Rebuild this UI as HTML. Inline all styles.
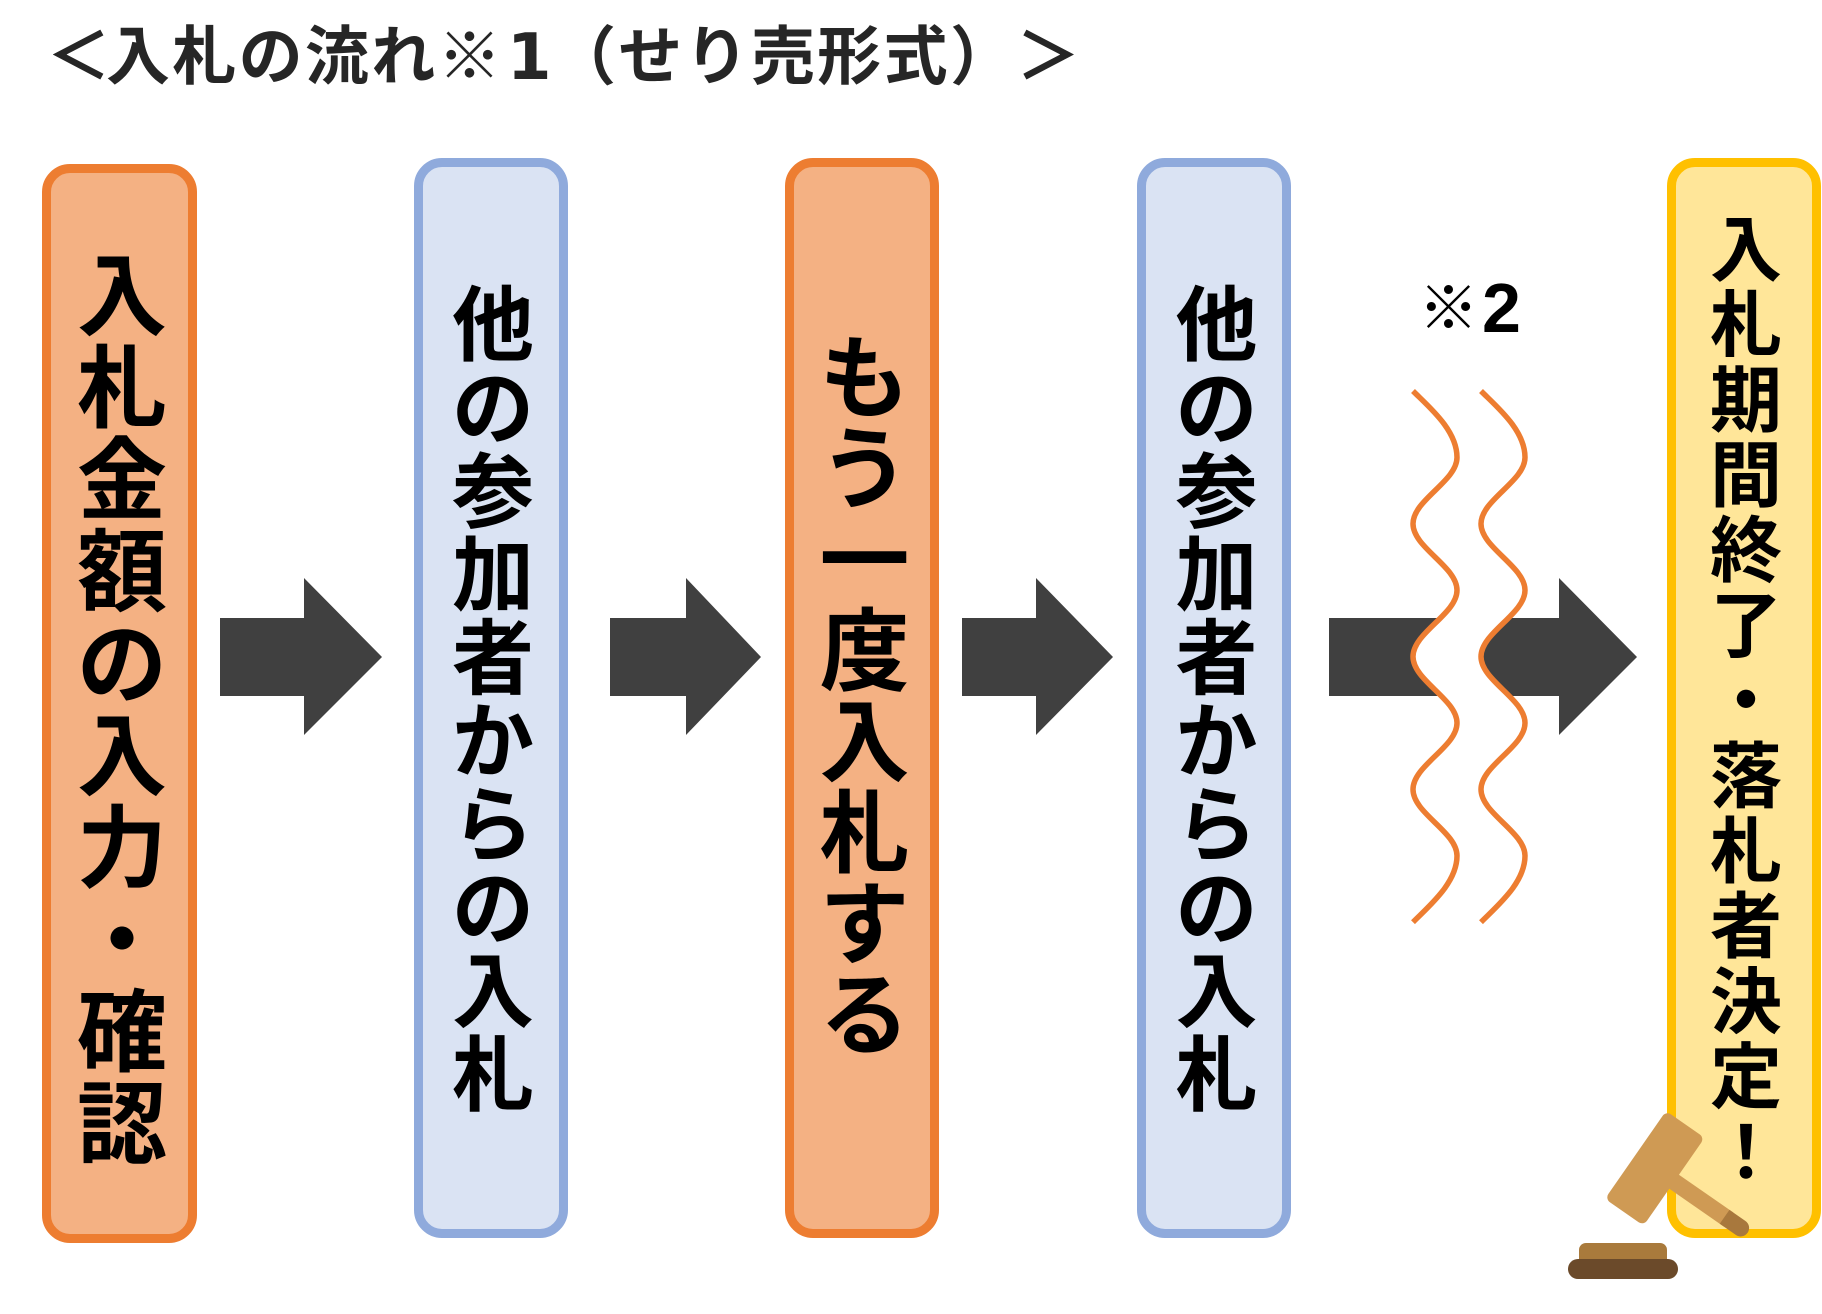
<!DOCTYPE html>
<html>
<head>
<meta charset="utf-8">
<style>
html,body{margin:0;padding:0;background:#fff;}
body{width:1822px;height:1314px;overflow:hidden;}
svg{display:block;}
.t{font-family:"Liberation Sans","Noto Sans CJK JP",sans-serif;font-weight:700;}
</style>
</head>
<body>
<svg width="1822" height="1314" viewBox="0 0 1822 1314" xmlns="http://www.w3.org/2000/svg">
<rect x="0" y="0" width="1822" height="1314" fill="#fff"/>

<!-- Title -->
<text class="t" y="79" font-size="64" fill="#262626"><tspan x="46.5">＜</tspan><tspan x="106">入</tspan><tspan x="172.3">札</tspan><tspan x="238.6">の</tspan><tspan x="304.9">流</tspan><tspan x="371.2">れ</tspan><tspan x="437.5">※</tspan><tspan x="507" font-family="'DejaVu Sans',sans-serif">1</tspan><tspan x="552.1">（</tspan><tspan x="618.4">せ</tspan><tspan x="684.7">り</tspan><tspan x="751">売</tspan><tspan x="817.3">形</tspan><tspan x="883.6">式</tspan><tspan x="950">）</tspan><tspan x="1016.2">＞</tspan></text>

<!-- Boxes -->
<rect x="46.5" y="168.5" width="146" height="1070" rx="23.5" fill="#F4B183" stroke="#ED7D31" stroke-width="9"/>
<rect x="418.5" y="162.5" width="145" height="1071" rx="23.5" fill="#DAE3F3" stroke="#8FAADC" stroke-width="9"/>
<rect x="789.5" y="162.5" width="145" height="1071" rx="23.5" fill="#F4B183" stroke="#ED7D31" stroke-width="9"/>
<rect x="1141.5" y="162.5" width="145" height="1071" rx="23.5" fill="#DAE3F3" stroke="#8FAADC" stroke-width="9"/>
<rect x="1671.5" y="162.5" width="145" height="1071" rx="23.5" fill="#FFE699" stroke="#FFC000" stroke-width="9"/>

<!-- Arrows -->
<g fill="#404040">
<polygon points="220,618 304,618 304,578 382,657 304,735 304,696 220,696"/>
<polygon points="610,618 686,618 686,578 761,657 686,735 686,696 610,696"/>
<polygon points="962,618 1036,618 1036,578 1113,657 1036,735 1036,696 962,696"/>
<polygon points="1329,618 1559,618 1559,578 1637,657 1559,735 1559,696 1329,696"/>
</g>

<!-- White band between waves -->
<path fill="#fff" d="M1413,391 C1429,407 1457,430 1457,457.4 C1457,481.3 1413,499.9 1413,523.8 C1413,547.7 1457,566.3 1457,590.2 C1457,614.1 1413,632.7 1413,656.6 C1413,680.5 1457,699.1 1457,723 C1457,746.9 1413,765.5 1413,789.4 C1413,813.3 1457,831.9 1457,855.8 C1457,883 1429,906 1413,922.2 L1481,922.2 C1497,906 1525,883 1525,855.8 C1525,831.9 1481,813.3 1481,789.4 C1481,765.5 1525,746.9 1525,723 C1525,699.1 1481,680.5 1481,656.6 C1481,632.7 1525,614.1 1525,590.2 C1525,566.3 1481,547.7 1481,523.8 C1481,499.9 1525,481.3 1525,457.4 C1525,430 1497,407 1481,391 Z"/>

<!-- Waves -->
<g fill="none" stroke="#ED7D31" stroke-width="5.5">
<path d="M1413,391 C1429,407 1457,430 1457,457.4 C1457,481.3 1413,499.9 1413,523.8 C1413,547.7 1457,566.3 1457,590.2 C1457,614.1 1413,632.7 1413,656.6 C1413,680.5 1457,699.1 1457,723 C1457,746.9 1413,765.5 1413,789.4 C1413,813.3 1457,831.9 1457,855.8 C1457,883 1429,906 1413,922.2"/>
<path d="M1481,391 C1497,407 1525,430 1525,457.4 C1525,481.3 1481,499.9 1481,523.8 C1481,547.7 1525,566.3 1525,590.2 C1525,614.1 1481,632.7 1481,656.6 C1481,680.5 1525,699.1 1525,723 C1525,746.9 1481,765.5 1481,789.4 C1481,813.3 1525,831.9 1525,855.8 C1525,883 1497,906 1481,922.2"/>
</g>

<!-- ※2 -->
<text x="1448.5" y="329.3" text-anchor="middle" font-size="60" font-weight="400" font-family="'Liberation Sans','Noto Sans CJK JP',sans-serif" fill="#000">※</text>
<text x="1482" y="332" font-size="70" font-weight="700" font-family="'Liberation Sans',sans-serif" fill="#000">2</text>

<!-- Box 1 text -->
<g class="t" font-size="90" fill="#000" text-anchor="middle">
<text x="122" y="328">入</text>
<text x="122" y="420">札</text>
<text x="122" y="512">金</text>
<text x="122" y="604">額</text>
<text x="122" y="696">の</text>
<text x="122" y="788">入</text>
<text x="122" y="880">力</text>
<text x="122" y="972">・</text>
<text x="122" y="1064">確</text>
<text x="122" y="1156">認</text>
</g>

<!-- Box 2 text -->
<g class="t" font-size="82" fill="#000" text-anchor="middle">
<text x="493" y="354.2">他</text>
<text x="493" y="437.5">の</text>
<text x="493" y="520.8">参</text>
<text x="493" y="604.1">加</text>
<text x="493" y="687.4">者</text>
<text x="493" y="770.7">か</text>
<text x="493" y="854">ら</text>
<text x="493" y="937.3">の</text>
<text x="493" y="1020.6">入</text>
<text x="493" y="1103.9">札</text>
</g>

<!-- Box 3 text -->
<g class="t" font-size="90" fill="#000" text-anchor="middle">
<text x="864.5" y="410">も</text>
<text x="864.5" y="501">う</text>
<text x="864.5" y="592">一</text>
<text x="864.5" y="683">度</text>
<text x="864.5" y="774">入</text>
<text x="864.5" y="865">札</text>
<text x="864.5" y="956">す</text>
<text x="864.5" y="1047">る</text>
</g>

<!-- Box 4 text -->
<g class="t" font-size="82" fill="#000" text-anchor="middle">
<text x="1216.5" y="354.2">他</text>
<text x="1216.5" y="437.5">の</text>
<text x="1216.5" y="520.8">参</text>
<text x="1216.5" y="604.1">加</text>
<text x="1216.5" y="687.4">者</text>
<text x="1216.5" y="770.7">か</text>
<text x="1216.5" y="854">ら</text>
<text x="1216.5" y="937.3">の</text>
<text x="1216.5" y="1020.6">入</text>
<text x="1216.5" y="1103.9">札</text>
</g>

<!-- Box 5 text -->
<g class="t" font-size="72" fill="#000" text-anchor="middle">
<text x="1746" y="275.4">入</text>
<text x="1746" y="350.6">札</text>
<text x="1746" y="425.8">期</text>
<text x="1746" y="501">間</text>
<text x="1746" y="576.2">終</text>
<text x="1746" y="651.4">了</text>
<text x="1746" y="726.6">・</text>
<text x="1746" y="801.8">落</text>
<text x="1746" y="877">札</text>
<text x="1746" y="952.2">者</text>
<text x="1746" y="1027.4">決</text>
<text x="1746" y="1102.6">定</text>
<text x="1746" y="1177.8">！</text>
</g>

<!-- Gavel -->
<rect x="1579" y="1243" width="88" height="24" rx="7" fill="#A97A3C"/>
<rect x="1568" y="1259" width="110" height="20" rx="10" fill="#6B4A2A"/>
<g transform="translate(1654.8,1168.3) rotate(34.8)">
<rect x="0" y="-8.5" width="90" height="17" fill="#CF9A54"/>
<path d="M85,-8.5 H104.5 A8.5,8.5 0 0 1 104.5,8.5 H85 Z" fill="#A8783D"/>
<rect x="-23.5" y="-53.5" width="47" height="107" rx="6" fill="#CF9A54"/>
</g>
</svg>
</body>
</html>
